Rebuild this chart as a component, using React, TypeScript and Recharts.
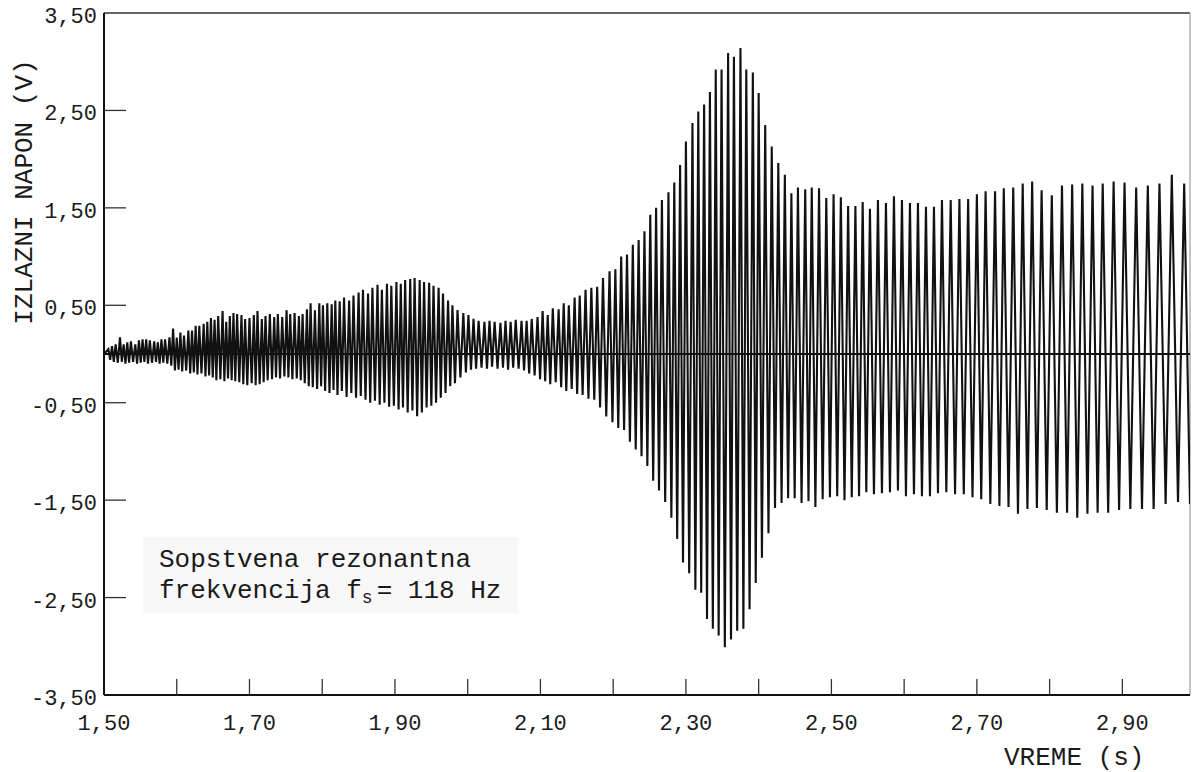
import { Line, LineChart, ReferenceLine, XAxis, YAxis } from "recharts";

// one entry per oscillation cycle: [time of the crest (s), crest (V), following trough (V)]
type Cycle = [number, number, number];

const onset: Cycle[] = [
  [1.506, 0.05, -0.06], [1.511, 0.08, -0.08], [1.516, 0.1, -0.09], [1.522, 0.17, -0.08],
  [1.527, 0.1, -0.1], [1.532, 0.12, -0.09], [1.537, 0.13, -0.08], [1.543, 0.1, -0.1],
  [1.548, 0.14, -0.09], [1.553, 0.15, -0.08], [1.558, 0.15, -0.1], [1.563, 0.14, -0.09],
  [1.569, 0.13, -0.08], [1.574, 0.12, -0.1], [1.579, 0.15, -0.09], [1.584, 0.15, -0.1],
  [1.59, 0.17, -0.12], [1.595, 0.26, -0.17], [1.6, 0.17, -0.16], [1.605, 0.22, -0.18],
  [1.61, 0.19, -0.17], [1.616, 0.24, -0.2], [1.621, 0.24, -0.19], [1.626, 0.29, -0.21],
  [1.631, 0.29, -0.2], [1.637, 0.31, -0.23], [1.642, 0.33, -0.22], [1.647, 0.37, -0.24],
  [1.652, 0.35, -0.27], [1.657, 0.39, -0.26], [1.663, 0.44, -0.28], [1.668, 0.33, -0.25],
  [1.673, 0.39, -0.27], [1.678, 0.42, -0.28],
];

const firstSwell: Cycle[] = [
  [1.683, 0.41, -0.29], [1.689, 0.4, -0.31], [1.694, 0.36, -0.32], [1.7, 0.37, -0.3],
  [1.706, 0.4, -0.32], [1.711, 0.44, -0.31], [1.717, 0.36, -0.29], [1.722, 0.39, -0.27],
  [1.728, 0.41, -0.26], [1.734, 0.38, -0.24], [1.739, 0.41, -0.25], [1.745, 0.38, -0.23],
  [1.751, 0.45, -0.24], [1.756, 0.41, -0.26], [1.762, 0.42, -0.25], [1.768, 0.39, -0.27],
  [1.773, 0.41, -0.3], [1.779, 0.46, -0.33], [1.784, 0.52, -0.34], [1.79, 0.45, -0.36],
  [1.796, 0.52, -0.33], [1.801, 0.5, -0.38], [1.807, 0.52, -0.4], [1.813, 0.51, -0.37],
  [1.818, 0.55, -0.42],
];

const firstHump: Cycle[] = [
  [1.824, 0.54, -0.38], [1.83, 0.58, -0.44], [1.837, 0.55, -0.4], [1.843, 0.6, -0.45],
  [1.85, 0.63, -0.43], [1.856, 0.66, -0.47], [1.863, 0.62, -0.5], [1.869, 0.68, -0.48],
  [1.876, 0.71, -0.52], [1.882, 0.66, -0.5], [1.889, 0.72, -0.54], [1.895, 0.7, -0.53],
  [1.902, 0.74, -0.57], [1.908, 0.72, -0.55], [1.914, 0.76, -0.6], [1.921, 0.77, -0.58],
  [1.927, 0.78, -0.64], [1.934, 0.76, -0.6], [1.94, 0.74, -0.55], [1.947, 0.73, -0.53],
  [1.953, 0.7, -0.5], [1.96, 0.68, -0.45], [1.966, 0.62, -0.4], [1.973, 0.55, -0.33],
];

const dip: Cycle[] = [
  [1.979, 0.5, -0.3], [1.986, 0.45, -0.24], [1.994, 0.42, -0.19], [2.001, 0.4, -0.16],
  [2.008, 0.36, -0.15], [2.015, 0.34, -0.14], [2.023, 0.33, -0.15], [2.03, 0.34, -0.13],
  [2.037, 0.33, -0.15], [2.045, 0.32, -0.14], [2.052, 0.34, -0.16], [2.059, 0.33, -0.14],
  [2.066, 0.35, -0.15], [2.074, 0.34, -0.17], [2.081, 0.34, -0.2], [2.088, 0.36, -0.22],
  [2.096, 0.38, -0.26], [2.103, 0.44, -0.28], [2.11, 0.4, -0.31], [2.117, 0.47, -0.29],
  [2.125, 0.46, -0.34], [2.132, 0.52, -0.38], [2.139, 0.5, -0.36], [2.147, 0.58, -0.41],
];

const rise: Cycle[] = [
  [2.154, 0.6, -0.42], [2.162, 0.66, -0.46], [2.17, 0.68, -0.47], [2.178, 0.69, -0.55],
  [2.186, 0.78, -0.64], [2.195, 0.85, -0.7], [2.203, 0.87, -0.76], [2.211, 1.0, -0.78],
  [2.219, 1.02, -0.9], [2.227, 1.12, -0.98], [2.235, 1.17, -1.05], [2.243, 1.26, -1.15],
  [2.251, 1.43, -1.3], [2.259, 1.5, -1.4], [2.267, 1.58, -1.52], [2.276, 1.66, -1.68],
  [2.284, 1.76, -1.9],
];

const resonance: Cycle[] = [
  [2.292, 1.94, -2.14], [2.3, 2.18, -2.25], [2.309, 2.37, -2.42], [2.317, 2.49, -2.45],
  [2.325, 2.56, -2.72], [2.333, 2.69, -2.82], [2.341, 2.92, -2.89], [2.349, 2.92, -3.01],
  [2.358, 3.09, -2.93], [2.366, 3.05, -2.84], [2.375, 3.14, -2.82], [2.383, 2.92, -2.62],
  [2.392, 2.89, -2.35], [2.4, 2.68, -2.09], [2.409, 2.35, -1.84], [2.418, 2.13, -1.58],
  [2.427, 1.96, -1.53], [2.436, 1.84, -1.48], [2.445, 1.65, -1.48], [2.454, 1.71, -1.53],
];

const plateau: Cycle[] = [
  [2.464, 1.69, -1.51], [2.473, 1.71, -1.57], [2.483, 1.7, -1.49], [2.493, 1.6, -1.47],
  [2.503, 1.64, -1.46], [2.513, 1.61, -1.5], [2.523, 1.52, -1.47], [2.533, 1.52, -1.46],
  [2.543, 1.56, -1.42], [2.553, 1.49, -1.44], [2.564, 1.58, -1.43], [2.575, 1.55, -1.42],
  [2.586, 1.62, -1.4], [2.597, 1.58, -1.46], [2.608, 1.55, -1.44], [2.619, 1.55, -1.46],
  [2.63, 1.51, -1.46], [2.641, 1.51, -1.43], [2.652, 1.58, -1.42], [2.664, 1.58, -1.44],
  [2.676, 1.59, -1.44], [2.688, 1.59, -1.47], [2.7, 1.64, -1.49], [2.712, 1.67, -1.54],
  [2.725, 1.67, -1.56], [2.737, 1.7, -1.57], [2.75, 1.71, -1.64], [2.763, 1.75, -1.59],
  [2.776, 1.77, -1.58], [2.789, 1.68, -1.6], [2.803, 1.63, -1.63], [2.817, 1.73, -1.63],
  [2.831, 1.74, -1.68], [2.845, 1.75, -1.64], [2.859, 1.73, -1.63], [2.873, 1.75, -1.63],
  [2.888, 1.77, -1.6], [2.903, 1.76, -1.59], [2.919, 1.71, -1.59], [2.935, 1.73, -1.59],
  [2.951, 1.75, -1.54], [2.968, 1.84, -1.52], [2.985, 1.75, -1.54],
];

const TRACE_START = 1.5;
const TRACE_END = 2.993;

const timeTicks = [1.5, 1.6, 1.7, 1.8, 1.9, 2.0, 2.1, 2.2, 2.3, 2.4, 2.5, 2.6, 2.7, 2.8, 2.9];
const labelledTimes = [1.5, 1.7, 1.9, 2.1, 2.3, 2.5, 2.7, 2.9];
const voltTicks = [-3.5, -2.5, -1.5, -0.5, 0.5, 1.5, 2.5, 3.5];

const cycles = [...onset, ...firstSwell, ...firstHump, ...dip, ...rise, ...resonance, ...plateau];

// crest, then the trough half way to the next crest
const trace: { t: number; v: number }[] = [{ t: TRACE_START, v: 0 }];
cycles.forEach(([t, hi, lo], i) => {
  trace.push({ t, v: hi });
  const next = cycles[i + 1];
  trace.push({ t: next ? (t + next[0]) / 2 : TRACE_END, v: lo });
});

const FONT = "'Liberation Mono', 'DejaVu Sans Mono', monospace";
const INK = "#1a1a1a";
const fmt = (v: number) => v.toFixed(2).replace(".", ",");

function TimeTick({ x, y, payload }: any) {
  const v = payload.value as number;
  return (
    <g>
      {v > TRACE_START && <line x1={x} x2={x} y1={y - 8} y2={y - 24} stroke="#333" strokeWidth={1.3} />}
      {labelledTimes.includes(v) && (
        <text x={x} y={y + 27} textAnchor="middle" fontFamily={FONT} fontSize={22} fill={INK}>
          {fmt(v)}
        </text>
      )}
    </g>
  );
}

function VoltTick({ x, y, payload }: any) {
  const v = payload.value as number;
  return (
    <g>
      {Math.abs(v) < 3.5 && <line x1={x + 7} x2={x + 29} y1={y} y2={y} stroke="#333" strokeWidth={1.3} />}
      <text x={x} y={y + 10} textAnchor="end" fontFamily={FONT} fontSize={22} fill={INK}>
        {fmt(v)}
      </text>
    </g>
  );
}

export default function App() {
  return (
    <div style={{ position: "absolute", left: 0, top: 0, width: 1192, height: 772, background: "#fff", fontFamily: FONT, color: INK }}>
      <LineChart width={1192} height={772} data={trace} margin={{ top: 13, right: 2, left: 0, bottom: 37 }}>
        <XAxis
          dataKey="t"
          type="number"
          domain={[TRACE_START, TRACE_END]}
          ticks={timeTicks}
          allowDataOverflow
          height={40}
          tickSize={0}
          tickMargin={8}
          tickLine={false}
          tick={(p: any) => <TimeTick {...p} />}
          axisLine={{ stroke: "#111", strokeWidth: 2 }}
        />
        <YAxis
          type="number"
          domain={[-3.5, 3.5]}
          ticks={voltTicks}
          allowDataOverflow
          width={104}
          tickSize={0}
          tickMargin={7}
          tickLine={false}
          tick={(p: any) => <VoltTick {...p} />}
          axisLine={{ stroke: "#111", strokeWidth: 2 }}
        />
        <ReferenceLine y={3.5} stroke="#333" strokeWidth={1.5} />
        <ReferenceLine x={TRACE_END} stroke="#888" strokeWidth={1} />
        <ReferenceLine y={0} stroke="#111" strokeWidth={2} />
        <Line
          type="linear"
          dataKey="v"
          stroke="#111"
          strokeWidth={2.1}
          dot={false}
          isAnimationActive={false}
        />
      </LineChart>

      <div
        style={{
          position: "absolute",
          left: 25 - 160,
          top: 192 - 15,
          width: 320,
          height: 30,
          lineHeight: "30px",
          fontSize: 26,
          textAlign: "center",
          transform: "rotate(-90deg)",
          whiteSpace: "nowrap",
        }}
      >
        IZLAZNI NAPON (V)
      </div>

      <div style={{ position: "absolute", left: 1004, top: 743, height: 30, lineHeight: "30px", fontSize: 26, whiteSpace: "nowrap" }}>
        VREME (s)
      </div>

      <div
        style={{
          position: "absolute",
          left: 143,
          top: 537,
          width: 375,
          height: 76,
          boxSizing: "border-box",
          padding: "8px 0 0 16px",
          background: "#f8f8f8",
          fontSize: 26,
          lineHeight: "31px",
          whiteSpace: "pre",
        }}
      >
        <div>Sopstvena rezonantna</div>
        <div>
          frekvencija f<sub style={{ fontSize: 18, verticalAlign: "-5px", paddingRight: 4 }}>s</sub>= 118 Hz
        </div>
      </div>
    </div>
  );
}
